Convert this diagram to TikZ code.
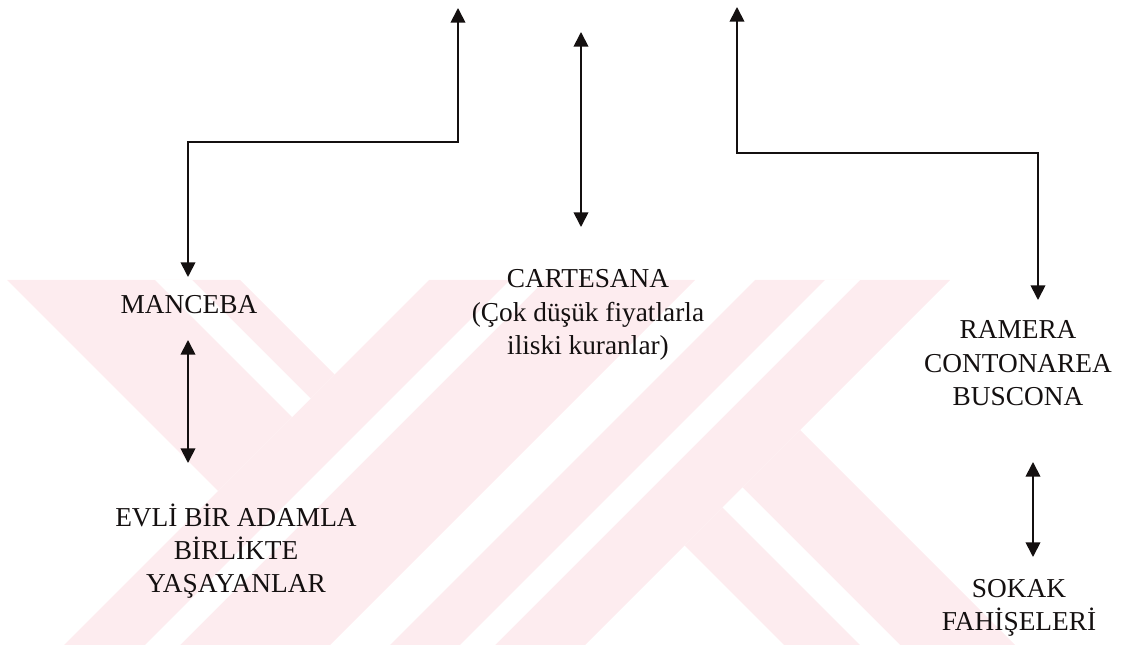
\documentclass[tikz,border=0pt]{standalone}
\usepackage{fontspec}
\setmainfont{Liberation Serif}
\usetikzlibrary{arrows.meta}
\definecolor{wm}{RGB}{253,236,239}
\definecolor{ink}{RGB}{20,16,16}
\begin{document}
\begin{tikzpicture}[x=0.75pt,y=-0.75pt,
  lbl/.style={inner sep=0pt, anchor=base, text=ink, font=\fontsize{20.5}{25}\selectfont},
  conn/.style={line width=1.3pt, draw=ink, {Triangle[length=11pt,width=11pt]}-{Triangle[length=11pt,width=11pt]}},
  wmfill/.style={fill=wm, draw=none},
  wmgap/.style={fill=white, draw=none}]
\useasboundingbox (0,0) rectangle (1122,645);
% watermark
\fill[wmfill] (7,280) -- (240,280) -- (334.5,374.5) -- (218,491) -- cycle;
\fill[wmfill] (429,280) -- (695,280) -- (330,645) -- (64,645) -- cycle;
\fill[wmfill] (755,280) -- (950,280) -- (585,645) -- (390,645) -- cycle;
\fill[wmfill] (800,430) -- (1015,645) -- (784,645) -- (684.5,545.5) -- cycle;
\fill[wmgap] (155,280) -- (192,280) -- (310.5,398.5) -- (292,417) -- cycle;
\fill[wmgap] (510,280) -- (545,280) -- (180,645) -- (145,645) -- cycle;
\fill[wmgap] (825,280) -- (860,280) -- (495,645) -- (460,645) -- cycle;
\fill[wmgap] (742.5,487.5) -- (900,645) -- (860,645) -- (722.5,507.5) -- cycle;
% labels
\node[lbl] (manceba) at (189,314) {MANCEBA};
\node[lbl] (cartesana) at (588,288) {\begin{tabular}[t]{@{}c@{}}CARTESANA\\(Çok düşük fiyatlarla\\iliski kuranlar)\end{tabular}};
\node[lbl] (ramera) at (1018,339) {\begin{tabular}[t]{@{}c@{}}RAMERA\\CONTONAREA\\BUSCONA\end{tabular}};
\node[lbl] (evli) at (236,526) {\begin{tabular}[t]{@{}c@{}}EVLİ BİR ADAMLA\\BİRLİKTE\\YAŞAYANLAR\end{tabular}};
\node[lbl] (sokak) at (1019,597) {\begin{tabular}[t]{@{}c@{}}SOKAK\\FAHİŞELERİ\end{tabular}};
% connector ends
\coordinate (ltop) at (458,8);
\coordinate (lcorner) at (458,142);
\coordinate (mancebaIn) at (188,277);
\coordinate (ctop) at (581,32);
\coordinate (cartesanaIn) at (581,227);
\coordinate (rtop) at (737,7);
\coordinate (rcorner) at (737,153);
\coordinate (rameraIn) at (1038,300);
\coordinate (mancebaOut) at (188,340);
\coordinate (evliIn) at (188,463);
\coordinate (rameraOut) at (1033,462);
\coordinate (sokakIn) at (1033,557);
% connectors
\draw[conn] (ltop) -- (lcorner) -| (mancebaIn);
\draw[conn] (ctop) -- (cartesanaIn);
\draw[conn] (rtop) -- (rcorner) -| (rameraIn);
\draw[conn] (mancebaOut) -- (evliIn);
\draw[conn] (rameraOut) -- (sokakIn);
\end{tikzpicture}
\end{document}
